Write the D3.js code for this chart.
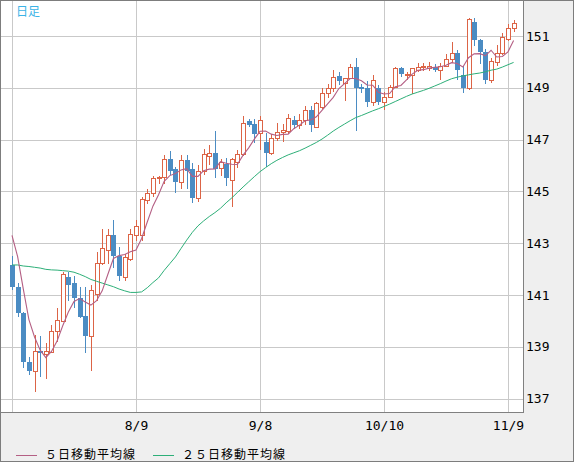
<!DOCTYPE html>
<html>
<head>
<meta charset="utf-8">
<script src="https://cdn.jsdelivr.net/npm/d3@7"></script>
<style>
  html, body { margin: 0; padding: 0; background: #fff; }
  svg { display: block; }
</style>
</head>
<body>
<div id="chart"></div>
<script>
// daily candles, 2023-07-10 .. 2023-11-10
const dates = [
  "7/10","7/11","7/12","7/13","7/14","7/17","7/18","7/19","7/20","7/21",
  "7/24","7/25","7/26","7/27","7/28","7/31","8/1","8/2","8/3","8/4",
  "8/7","8/8","8/9","8/10","8/11","8/14","8/15","8/16","8/17","8/18",
  "8/21","8/22","8/23","8/24","8/25","8/28","8/29","8/30","8/31","9/1",
  "9/4","9/5","9/6","9/7","9/8","9/11","9/12","9/13","9/14","9/15",
  "9/18","9/19","9/20","9/21","9/22","9/25","9/26","9/27","9/28","9/29",
  "10/2","10/3","10/4","10/5","10/6","10/9","10/10","10/11","10/12","10/13",
  "10/16","10/17","10/18","10/19","10/20","10/23","10/24","10/25","10/26","10/27",
  "10/30","10/31","11/1","11/2","11/3","11/6","11/7","11/8","11/9","11/10"
];
const open = [
  142.16,141.3,140.3,138.4,138.05,138.85,138.72,138.8,139.6,140.0,
  141.7,141.45,140.9,140.2,139.4,141.05,142.25,142.75,143.3,142.5,
  141.7,142.4,143.3,143.3,144.65,144.95,145.5,145.55,146.25,145.85,
  145.35,146.2,145.85,144.75,145.8,146.35,146.5,145.9,146.05,145.45,
  146.15,146.45,147.7,147.6,147.25,146.9,146.5,147.05,147.3,147.33,
  147.75,147.55,147.75,148.15,147.5,148.25,148.8,149.0,149.45,149.2,
  149.37,149.8,149.05,149.0,148.45,149.0,148.45,148.65,149.05,149.75,
  149.5,149.5,149.7,149.8,149.75,149.8,149.7,149.85,150.1,150.35,
  149.5,149.0,151.55,150.85,150.4,149.3,150.0,150.35,150.9,151.3
];
const high = [
  142.5,141.45,140.35,138.6,139.45,139.4,139.15,139.85,140.5,141.9,
  141.9,141.75,141.3,141.3,141.4,142.65,143.55,143.55,143.9,142.85,
  142.6,143.55,143.9,144.8,145.1,145.6,145.6,146.4,146.55,145.95,
  146.4,146.4,146.1,146.0,146.65,146.8,147.35,146.25,146.3,146.3,
  146.6,147.9,147.8,147.8,147.9,147.25,147.2,147.65,147.6,148.0,
  147.9,148.0,148.3,148.3,148.45,149.0,149.15,149.7,149.6,149.37,
  149.9,150.16,149.15,149.25,149.5,149.1,148.85,149.1,149.8,149.8,
  149.6,149.75,149.95,149.95,150.0,149.9,149.95,150.3,150.75,150.45,
  149.85,151.7,151.7,150.9,150.5,150.15,150.65,151.1,151.45,151.6
];
const low = [
  141.2,140.15,138.2,137.9,137.25,137.85,137.75,138.75,139.2,139.95,
  140.75,140.5,140.1,138.75,138.05,140.75,142.15,142.2,142.05,141.55,
  141.55,142.3,143.1,143.1,144.5,144.8,145.3,145.3,145.65,144.95,
  145.1,145.1,144.55,144.6,145.65,146.0,145.5,145.6,145.2,144.4,
  145.9,146.35,147.5,146.85,146.6,145.95,146.4,146.95,146.9,147.2,
  147.4,147.4,147.55,147.3,147.45,148.2,148.6,148.85,149.1,148.5,
  149.35,147.35,148.8,148.25,148.3,148.35,148.15,148.6,149.0,149.4,
  149.3,148.75,149.6,149.65,149.65,149.6,149.3,149.8,149.95,149.3,
  148.8,148.9,150.6,149.9,149.15,149.2,149.85,150.25,150.8,151.15
];
const close = [
  141.3,140.3,138.4,138.05,138.85,138.75,138.85,139.6,140.05,141.8,
  141.4,140.9,140.15,139.4,141.2,142.25,142.8,143.3,142.5,141.75,
  142.45,143.35,143.65,144.7,144.95,145.5,145.55,146.25,145.8,145.35,
  146.2,145.8,144.75,145.8,146.45,146.5,145.85,146.15,145.5,146.25,
  146.45,147.65,147.55,147.2,147.75,146.5,147.05,147.3,147.38,147.82,
  147.55,147.75,148.15,147.55,148.4,148.8,149.0,149.4,149.25,149.37,
  149.8,149.0,148.95,148.45,149.3,148.45,148.65,149.05,149.75,149.55,
  149.55,149.75,149.8,149.85,149.85,149.7,149.85,150.1,150.35,149.7,
  149.0,151.65,150.85,150.4,149.3,150.05,150.35,150.95,151.3,151.5
];
const ma5 = [
  143.30,142.48,141.24,140.05,139.38,138.87,138.58,138.82,139.22,139.81,
  140.34,140.75,140.86,140.73,140.61,140.78,141.16,141.79,142.41,142.52,
  142.56,142.67,142.74,143.18,143.82,144.43,144.87,145.39,145.61,145.69,
  145.83,145.88,145.58,145.58,145.80,145.86,145.87,146.15,146.09,146.05,
  146.04,146.40,146.68,147.02,147.32,147.33,147.21,147.16,147.20,147.21,
  147.42,147.56,147.73,147.76,147.88,148.13,148.38,148.63,148.97,149.16,
  149.36,149.36,149.27,149.11,149.10,148.83,148.76,148.78,149.04,149.09,
  149.31,149.53,149.68,149.70,149.76,149.79,149.81,149.87,149.97,149.94,
  149.80,150.16,150.31,150.32,150.24,150.45,150.19,150.21,150.39,150.83
];
const ma25 = [
  142.16,142.16,142.12,142.10,142.07,142.04,141.99,141.97,141.96,141.94,
  141.92,141.88,141.80,141.71,141.60,141.53,141.46,141.39,141.32,141.23,
  141.16,141.10,141.10,141.12,141.28,141.48,141.66,141.95,142.21,142.47,
  142.80,143.12,143.42,143.67,143.86,144.03,144.18,144.35,144.56,144.75,
  144.96,145.17,145.37,145.57,145.76,145.92,146.07,146.20,146.31,146.41,
  146.49,146.57,146.67,146.78,146.89,147.02,147.17,147.33,147.47,147.60,
  147.73,147.85,147.93,148.02,148.11,148.19,148.28,148.37,148.47,148.57,
  148.67,148.76,148.83,148.90,148.98,149.07,149.16,149.26,149.35,149.41,
  149.46,149.50,149.54,149.57,149.62,149.68,149.72,149.80,149.89,149.98
];
const yTicks = [137, 139, 141, 143, 145, 147, 149, 151];
const xTicks = ["7/10", "8/9", "9/8", "10/10", "11/9"];
const xTickLabels = ["", "8/9", "9/8", "10/10", "11/9"];
const legendNames = ["５日移動平均線", "２５日移動平均線"];

const width = 574;
const height = 462;
const plotRight = 523;
const plotBottom = 412;
const upColor = "#dc6446";
const downColor = "#4b8cc3";
const ma5Color = "#b45f84";
const ma25Color = "#2daf78";
const gridColor = "#c9c9c9";
const labelFont = "'DejaVu Sans Mono', monospace";

const x = d3.scalePoint()
    .domain(dates)
    .range([12, 513.6]);

const y = d3.scaleLinear()
    .domain([137, 151])
    .range([398.6, 36]);

const svg = d3.select("#chart").append("svg")
    .attr("width", width)
    .attr("height", height)
    .attr("viewBox", [0, 0, width, height]);

// frame and plot background
svg.append("rect")
    .attr("x", 0.5).attr("y", 0.5)
    .attr("width", width - 1).attr("height", height - 1)
    .attr("fill", "#efefef")
    .attr("stroke", "#7d7d7d");

svg.append("rect")
    .attr("x", 1).attr("y", 1)
    .attr("width", plotRight - 1).attr("height", plotBottom - 1)
    .attr("fill", "#fff");

// grid
const grid = svg.append("g")
    .attr("stroke", gridColor)
    .attr("shape-rendering", "crispEdges");

grid.selectAll(".h")
    .data(yTicks)
    .join("line")
    .attr("x1", 1).attr("x2", plotRight)
    .attr("y1", d => Math.round(y(d)) + 0.5)
    .attr("y2", d => Math.round(y(d)) + 0.5);

grid.selectAll(".v")
    .data(xTicks)
    .join("line")
    .attr("y1", 1).attr("y2", plotBottom)
    .attr("x1", d => Math.round(x(d)) + 0.5)
    .attr("x2", d => Math.round(x(d)) + 0.5);

// plot border (right + bottom)
svg.append("path")
    .attr("d", `M${plotRight + 0.5},0V${plotBottom + 0.5}H0`)
    .attr("fill", "none")
    .attr("stroke", "#808080")
    .attr("shape-rendering", "crispEdges");

// axes
svg.append("g")
    .attr("transform", `translate(${plotRight},0)`)
    .call(d3.axisRight(y).tickValues(yTicks).tickSize(0).tickPadding(3).tickFormat(d3.format("d")))
    .call(g => g.select(".domain").remove())
    .call(g => g.selectAll("text")
        .attr("font-family", labelFont)
        .attr("font-size", 13)
        .attr("fill", "#000"));

svg.append("g")
    .attr("transform", `translate(0,${plotBottom})`)
    .call(d3.axisBottom(x).tickValues(xTicks).tickSize(0).tickPadding(9)
        .tickFormat((d, i) => xTickLabels[i]))
    .call(g => g.select(".domain").remove())
    .call(g => g.selectAll("text")
        .attr("font-family", labelFont)
        .attr("font-size", 13)
        .attr("fill", "#000"));

// candles
const candles = svg.append("g")
    .attr("shape-rendering", "crispEdges")
    .selectAll("g")
    .data(dates.map((d, i) => ({date: d, o: open[i], h: high[i], l: low[i], c: close[i]})))
    .join("g");

candles.append("line")
    .attr("x1", d => Math.round(x(d.date)) + 0.5)
    .attr("x2", d => Math.round(x(d.date)) + 0.5)
    .attr("y1", d => Math.round(y(d.h)))
    .attr("y2", d => Math.round(y(d.l)))
    .attr("stroke", d => d.c >= d.o ? upColor : downColor);

candles.append("rect")
    .each(function (d) {
        const cx = Math.round(x(d.date));
        const top = Math.round(y(Math.max(d.o, d.c)));
        const bot = Math.round(y(Math.min(d.o, d.c)));
        const r = d3.select(this);
        if (d.c >= d.o) {
            r.attr("x", cx - 1.5).attr("y", top + 0.5)
                .attr("width", 4).attr("height", Math.max(bot - top, 1))
                .attr("fill", "#fff").attr("stroke", upColor);
        } else {
            r.attr("x", cx - 2).attr("y", top)
                .attr("width", 5).attr("height", Math.max(bot - top, 1))
                .attr("fill", downColor);
        }
    });

// moving averages
const maLine = vals => d3.line()
    .x((d, i) => x(dates[i]))
    .y(d => y(d))(vals);

svg.append("path")
    .attr("d", maLine(ma25))
    .attr("fill", "none")
    .attr("stroke", ma25Color)
    .attr("stroke-width", 1);

svg.append("path")
    .attr("d", maLine(ma5))
    .attr("fill", "none")
    .attr("stroke", ma5Color)
    .attr("stroke-width", 1.1);

// title
svg.append("text")
    .attr("x", 16).attr("y", 16)
    .attr("font-family", "'Noto Sans CJK JP', sans-serif")
    .attr("font-size", 12)
    .attr("fill", "#3bb3e6")
    .text("日足");

// legend
const legend = svg.append("g")
    .selectAll("g")
    .data(legendNames)
    .join("g")
    .attr("transform", (d, i) => `translate(${[16, 153][i]},455)`);

legend.append("line")
    .attr("x1", 0).attr("x2", 21)
    .attr("y1", 0.5).attr("y2", 0.5)
    .attr("stroke", (d, i) => [ma5Color, ma25Color][i])
    .attr("shape-rendering", "crispEdges");

legend.append("text")
    .attr("x", 29).attr("y", 0)
    .attr("dy", "0.36em")
    .attr("font-family", "'Noto Sans CJK JP', sans-serif")
    .attr("font-size", 12)
    .attr("letter-spacing", 1)
    .attr("fill", "#000")
    .text(d => d);
</script>
</body>
</html>
